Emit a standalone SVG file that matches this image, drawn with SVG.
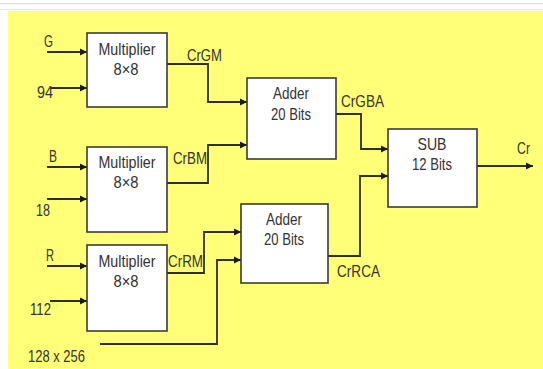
<svg xmlns="http://www.w3.org/2000/svg" width="543" height="369" viewBox="0 0 543 369">
<defs>
<style>
.box{fill:#fff;stroke:#3a3a3a;stroke-width:1.6}
.ln{fill:none;stroke:#2e2e2e;stroke-width:1.8}
.t{font-family:"Liberation Sans",Arial,sans-serif;font-size:17px;fill:#333}
.c{text-anchor:middle}
</style>
<marker id="arr" markerWidth="8" markerHeight="8" refX="7" refY="4" orient="auto" markerUnits="userSpaceOnUse">
<path d="M0,0.5 L7,4 L0,7.5z" fill="#1a1a1a"/>
</marker>
</defs>
<rect x="0" y="0" width="543" height="369" fill="#fff"/>
<rect x="0" y="3" width="543" height="1.2" fill="#dcdcdc"/>
<rect x="0" y="9" width="543" height="1" fill="#e8e8e8"/>
<rect x="8" y="11" width="535" height="358" fill="#ffff78"/>

<g id="connectors" class="ln">
<path d="M47,52 H87" marker-end="url(#arr)"/>
<path d="M51,88 H87" marker-end="url(#arr)"/>
<path d="M47,167 H87" marker-end="url(#arr)"/>
<path d="M47,199 H87" marker-end="url(#arr)"/>
<path d="M47,266 H87" marker-end="url(#arr)"/>
<path d="M50,301 H87" marker-end="url(#arr)"/>
<path d="M167,64 H208 V102 H247" marker-end="url(#arr)"/>
<path d="M167,183 H208 V145 H247" marker-end="url(#arr)"/>
<path d="M167,273 H204 V232 H241" marker-end="url(#arr)"/>
<path d="M100,344 H217 V260 H241" marker-end="url(#arr)"/>
<path d="M336,114 H361 V149 H388" marker-end="url(#arr)"/>
<path d="M328,256 H360 V176 H388" marker-end="url(#arr)"/>
<path d="M477,166 H533" marker-end="url(#arr)"/>
</g>

<g id="labels" class="t">
<text x="44" y="47" textLength="9" lengthAdjust="spacingAndGlyphs">G</text>
<text x="37" y="98" textLength="16" lengthAdjust="spacingAndGlyphs">94</text>
<text x="49" y="162" textLength="8" lengthAdjust="spacingAndGlyphs">B</text>
<text x="36" y="216" textLength="14" lengthAdjust="spacingAndGlyphs">18</text>
<text x="46" y="261" textLength="8" lengthAdjust="spacingAndGlyphs">R</text>
<text x="30" y="315" textLength="21" lengthAdjust="spacingAndGlyphs">112</text>
<text x="28" y="362" textLength="57" lengthAdjust="spacingAndGlyphs">128 x 256</text>
<text x="187" y="61" textLength="35" lengthAdjust="spacingAndGlyphs">CrGM</text>
<text x="173" y="164" textLength="34" lengthAdjust="spacingAndGlyphs">CrBM</text>
<text x="168" y="267" textLength="35" lengthAdjust="spacingAndGlyphs">CrRM</text>
<text x="341" y="107" textLength="43" lengthAdjust="spacingAndGlyphs">CrGBA</text>
<text x="337" y="277" textLength="43" lengthAdjust="spacingAndGlyphs">CrRCA</text>
<text x="517" y="154" textLength="13" lengthAdjust="spacingAndGlyphs">Cr</text>
</g>

<g id="mult1">
<rect class="box" x="87" y="33" width="80" height="74"/>
<text class="t c" x="127" y="55" textLength="57" lengthAdjust="spacingAndGlyphs">Multiplier</text>
<text class="t c" x="126" y="75" textLength="25" lengthAdjust="spacingAndGlyphs">8×8</text>
</g>
<g id="mult2">
<rect class="box" x="87" y="147" width="80" height="85"/>
<text class="t c" x="127" y="168" textLength="57" lengthAdjust="spacingAndGlyphs">Multiplier</text>
<text class="t c" x="126" y="188" textLength="25" lengthAdjust="spacingAndGlyphs">8×8</text>
</g>
<g id="mult3">
<rect class="box" x="87" y="245" width="80" height="86"/>
<text class="t c" x="127" y="267" textLength="57" lengthAdjust="spacingAndGlyphs">Multiplier</text>
<text class="t c" x="126" y="287" textLength="25" lengthAdjust="spacingAndGlyphs">8×8</text>
</g>
<g id="adder1">
<rect class="box" x="247" y="78" width="89" height="81"/>
<text class="t c" x="291" y="99" textLength="36" lengthAdjust="spacingAndGlyphs">Adder</text>
<text class="t c" x="291" y="120" textLength="40" lengthAdjust="spacingAndGlyphs">20 Bits</text>
</g>
<g id="adder2">
<rect class="box" x="241" y="204" width="87" height="79"/>
<text class="t c" x="284" y="225" textLength="36" lengthAdjust="spacingAndGlyphs">Adder</text>
<text class="t c" x="284" y="245" textLength="40" lengthAdjust="spacingAndGlyphs">20 Bits</text>
</g>
<g id="sub">
<rect class="box" x="388" y="129" width="89" height="78"/>
<text class="t c" x="432" y="150" textLength="29" lengthAdjust="spacingAndGlyphs">SUB</text>
<text class="t c" x="432" y="170" textLength="40" lengthAdjust="spacingAndGlyphs">12 Bits</text>
</g>
</svg>
